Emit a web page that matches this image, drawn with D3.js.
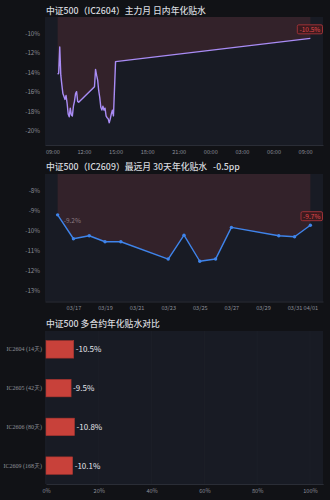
<!DOCTYPE html>
<html>
<head>
<meta charset="utf-8">
<script src="https://cdn.jsdelivr.net/npm/d3@7"></script>
<style>
  html, body { margin: 0; padding: 0; background: #111216; }
  svg { display: block; font-family: "Noto Sans CJK SC", "Noto Sans", sans-serif; }
</style>
</head>
<body>
<div id="chart"></div>
<script>
// intraday annualised basis, IC2604 (two days: 03-31 session + 04-01 open)
const intradayTimes = [
  "03-31 09:30", "03-31 09:36", "03-31 09:42", "03-31 09:48", "03-31 09:54",
  "03-31 10:00", "03-31 10:06", "03-31 10:12", "03-31 10:18", "03-31 10:24",
  "03-31 10:30", "03-31 10:36", "03-31 10:42", "03-31 10:48", "03-31 10:54",
  "03-31 11:00", "03-31 11:06", "03-31 11:12", "03-31 11:18", "03-31 11:24",
  "03-31 11:30",
  "03-31 13:00", "03-31 13:06", "03-31 13:12", "03-31 13:18", "03-31 13:24",
  "03-31 13:30", "03-31 13:36", "03-31 13:42", "03-31 13:48", "03-31 13:54",
  "03-31 14:00", "03-31 14:06", "03-31 14:12", "03-31 14:18", "03-31 14:24",
  "03-31 14:30", "03-31 14:36", "03-31 14:42", "03-31 14:48", "03-31 15:00",
  "04-01 09:30"
];
const intradayValues = [
  -14.2, -14.1, -11.4, -14.3, -15.3,
  -16.2, -16.5, -16.8, -16.4, -17.2,
  -18.3, -18.6, -17.7, -18.4, -18.5,
  -17.5, -17.0, -16.2, -16.0, -17.0,
  -17.1,
  -15.5, -13.7, -14.3, -14.8, -15.9,
  -16.6, -17.6, -17.9, -17.5, -17.9,
  -17.7, -18.5, -18.7, -18.8, -19.2,
  -18.8, -18.3, -17.9, -18.5, -12.9,
  -10.5
];

// 30-day annualised basis, IC2609
const dailyDates = ["03-16", "03-17", "03-18", "03-19", "03-20", "03-23", "03-24",
  "03-25", "03-26", "03-27", "03-30", "03-31", "04-01"];
const dailyValues = [-9.2, -10.4, -10.25, -10.55, -10.55, -11.42, -10.22,
  -11.53, -11.42, -9.83, -10.25, -10.3, -9.72];

// contracts comparison
const contracts = ["IC2604 (14天)", "IC2605 (42天)", "IC2606 (80天)", "IC2609 (168天)"];
const contractValues = [-10.5, -9.5, -10.8, -10.1];

const W = 330, H = 500;
const plotBg = "#181b24";
const fillCol = "#33222a";
const tickCol = "#8a8d96";
const titleCol = "#d6d8de";

const svg = d3.select("#chart").append("svg").attr("width", W).attr("height", H);
svg.append("rect").attr("width", W).attr("height", H).attr("fill", "#111216");

const pct = (v) => v + "%";

function lineChart(opt) {
  const g = svg.append("g");
  g.append("rect")
    .attr("x", opt.x0).attr("y", opt.y0)
    .attr("width", opt.x1 - opt.x0).attr("height", opt.y1 - opt.y0)
    .attr("fill", plotBg);

  g.append("text")
    .attr("x", 46).attr("y", opt.titleY)
    .attr("fill", titleCol).attr("font-size", 8.8).attr("font-weight", 500)
    .style("white-space", "pre")
    .text(opt.title);

  const data = opt.dates.map((d, i) => ({ t: opt.parse(d), v: opt.values[i] }));
  const ext = d3.extent(data, (d) => d.t);
  const pad = (ext[1] - ext[0]) * 0.05;
  const x = d3.scaleTime()
    .domain([new Date(+ext[0] - pad), new Date(+ext[1] + pad)])
    .range([opt.x0, opt.x1]);
  const y = d3.scaleLinear().domain(opt.yDomain).range([opt.y1, opt.y0]);

  // area above the curve
  const area = d3.area()
    .x((d) => x(d.t))
    .y0(opt.y0)
    .y1((d) => y(d.v));
  g.append("path").datum(data).attr("d", area).attr("fill", fillCol);

  const line = d3.line().x((d) => x(d.t)).y((d) => y(d.v));
  g.append("path").datum(data).attr("d", line)
    .attr("fill", "none").attr("stroke", opt.color)
    .attr("stroke-width", 1.4).attr("stroke-linejoin", "round");

  if (opt.dots) {
    g.selectAll("circle.pt").data(data).join("circle")
      .attr("cx", (d) => x(d.t)).attr("cy", (d) => y(d.v))
      .attr("r", 1.7).attr("fill", opt.color);
  }

  const yAxis = g.append("g")
    .attr("transform", `translate(${opt.x0},0)`)
    .call(d3.axisLeft(y).tickValues(opt.yTicks).tickFormat(pct).tickSize(0).tickPadding(5));
  yAxis.select(".domain").remove();
  yAxis.selectAll("text").attr("fill", tickCol).attr("font-size", 6.2)
    .style("font-family", "'Noto Sans CJK SC', sans-serif");

  const xAxis = g.append("g")
    .attr("transform", `translate(0,${opt.y1})`)
    .call(d3.axisBottom(x).ticks(opt.xTicks).tickFormat(opt.xFormat).tickSize(0).tickPadding(5));
  xAxis.select(".domain").attr("stroke", "#2a2d36");
  xAxis.selectAll("text").attr("fill", tickCol).attr("font-size", 5.6)
    .style("font-family", "'Noto Sans CJK SC', sans-serif");

  // last value badge
  const last = data[data.length - 1];
  const lx = x(last.t), ly = y(last.v);
  const txt = last.v.toFixed(1) + "%";
  const bw = txt.length * 3.7 + 3, bh = 9;
  const bx = Math.min(lx + 2 - bw / 2, opt.x1 - bw - 0.5);
  const by = ly - 4.5 - bh;
  g.append("rect").attr("x", bx).attr("y", by).attr("width", bw).attr("height", bh)
    .attr("rx", 1.5).attr("fill", "#3a1a1e").attr("stroke", "#a8343a").attr("stroke-width", 0.9);
  g.append("text").attr("x", bx + bw / 2).attr("y", by + bh / 2 + 2.4)
    .attr("text-anchor", "middle").attr("fill", "#e0484c").attr("font-size", 6.5)
    .text(txt);

  if (opt.firstLabel) {
    const f = data[0];
    g.append("text").attr("x", x(f.t) + 6).attr("y", y(f.v) + 8.5)
      .attr("fill", "#8a7b80").attr("font-size", 6.5).text(f.v.toFixed(1) + "%");
  }
}

lineChart({
  title: "中证500（IC2604）主力月 日内年化贴水",
  titleY: 13.5,
  x0: 45, x1: 323, y0: 17, y1: 145,
  dates: intradayTimes, values: intradayValues,
  parse: d3.timeParse("%m-%d %H:%M"),
  yDomain: [-21.5, -8.3],
  yTicks: [-10, -12, -14, -16, -18, -20],
  xTicks: d3.timeHour.every(3),
  xFormat: d3.timeFormat("%H:%M"),
  color: "#a98cf5",
  dots: false
});

lineChart({
  title: "中证500（IC2609）最远月 30天年化贴水   -0.5pp",
  titleY: 170,
  x0: 45, x1: 323, y0: 174, y1: 301.5,
  dates: dailyDates, values: dailyValues,
  parse: d3.timeParse("%m-%d"),
  yDomain: [-13.55, -7.15],
  yTicks: [-8, -9, -10, -11, -12, -13],
  xTicks: d3.timeDay.every(2),
  xFormat: d3.timeFormat("%m/%d"),
  color: "#3f84ea",
  dots: true,
  firstLabel: true
});

// bar chart
(function () {
  const x0 = 45, x1 = 323, y0 = 331, y1 = 484;
  const g = svg.append("g");
  g.append("rect").attr("x", x0).attr("y", y0)
    .attr("width", x1 - x0).attr("height", y1 - y0).attr("fill", plotBg);

  g.append("text")
    .attr("x", 46).attr("y", 327)
    .attr("fill", titleCol).attr("font-size", 8.8).attr("font-weight", 500)
    .text("中证500 多合约年化贴水对比");

  const x = d3.scaleLinear().domain([0, 105]).range([46, 323.2]);
  const y = d3.scaleBand().domain(contracts).range([y0, y1])
    .paddingInner(0.55).paddingOuter(0.25);

  g.selectAll("line.grid").data(x.ticks(5)).join("line")
    .attr("x1", (d) => x(d)).attr("x2", (d) => x(d))
    .attr("y1", y0).attr("y2", y1)
    .attr("stroke", "#1e212a").attr("stroke-width", 0.7);

  const rows = contracts.map((c, i) => ({ c, v: contractValues[i] }));
  g.selectAll("rect.bar").data(rows).join("rect")
    .attr("x", x(0)).attr("y", (d) => y(d.c))
    .attr("width", (d) => x(Math.abs(d.v)) - x(0))
    .attr("height", y.bandwidth())
    .attr("fill", "#c8413a").attr("stroke", "#a8352f").attr("stroke-width", 0.6);

  g.selectAll("text.val").data(rows).join("text")
    .attr("x", (d) => x(Math.abs(d.v)) + 2)
    .attr("y", (d) => y(d.c) + y.bandwidth() / 2 + 3)
    .attr("fill", "#e4e5ea").attr("font-size", 8)
    .text((d) => d.v.toFixed(1) + "%");

  const yAxis = g.append("g").attr("transform", `translate(${x0},0)`)
    .call(d3.axisLeft(y).tickSize(0).tickPadding(3));
  yAxis.select(".domain").remove();
  yAxis.selectAll("text").attr("fill", "#8f929a").attr("font-size", 6)
    .style("font-family", "'Liberation Serif', serif");

  const xAxis = g.append("g").attr("transform", `translate(0,${y1})`)
    .call(d3.axisBottom(x).tickValues([0, 20, 40, 60, 80, 100]).tickFormat(pct)
      .tickSize(0).tickPadding(5));
  xAxis.select(".domain").attr("stroke", "#2a2d36");
  xAxis.selectAll("text").attr("fill", tickCol).attr("font-size", 5.6)
    .style("font-family", "'Noto Sans CJK SC', sans-serif");
})();
</script>
</body>
</html>
